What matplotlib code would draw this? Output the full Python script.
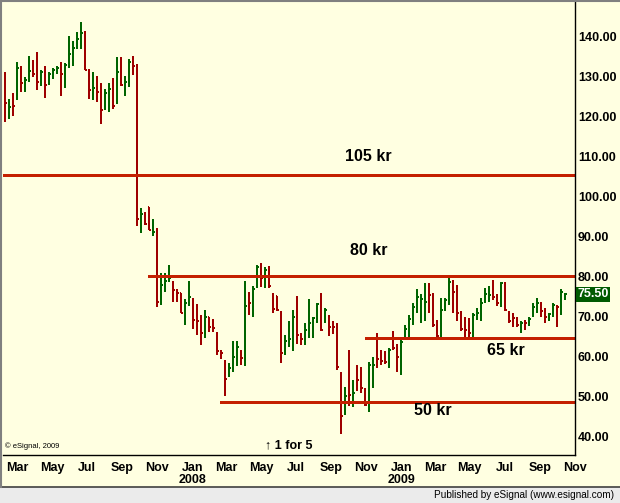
import numpy as np
import pandas as pd
import matplotlib
matplotlib.use('Agg')
import matplotlib.pyplot as plt
import matplotlib.dates as mdates
from matplotlib.patches import Rectangle
from matplotlib.lines import Line2D

plt.rcParams['font.family'] = ['Liberation Sans', 'DejaVu Sans']

# weekly OHLC bars
weeks = pd.date_range('2007-02-08', periods=141, freq='7D')

opens = [129.4, 120.5, 123.4, 124.8, 132.3, 126.9, 129.3, 133.4, 130.9, 128.4,
         131.1, 128.4, 130.5, 131.6, 132.2, 128.5, 133.3, 135.1, 137.2, 139.4,
         141.0, 131.6, 125.1, 126.9, 125.9, 122.4, 122.2, 128.4, 123.8, 133.9,
         127.9, 128.8, 133.6, 131.9, 92.9, 96.0, 97.3, 90.4, 91.2, 74.1,
         77.4, 79.3, 78.7, 76.6, 75.8, 70.6, 73.1, 74.3, 71.2, 69.9,
         65.7, 69.7, 69.1, 65.9, 61.2, 58.2, 55.5, 56.6, 58.2, 59.9,
         59.5, 73.7, 71.6, 79.5, 82.4, 79.8, 81.4, 75.4, 75.0, 70.9,
         61.2, 64.1, 64.1, 71.2, 65.3, 64.1, 67.0, 68.7, 68.7, 73.1,
         69.1, 70.1, 67.8, 67.6, 55.7, 47.4, 58.2, 48.2, 55.0, 55.7,
         51.7, 47.8, 57.0, 60.1, 59.7, 61.1, 59.2, 63.2, 62.6, 58.9,
         64.9, 66.6, 70.1, 71.7, 73.9, 73.3, 78.1, 68.9, 68.4, 65.3,
         71.7, 73.7, 78.4, 76.2, 68.7, 67.0, 66.6, 65.3, 69.9, 70.3,
         74.9, 75.0, 78.3, 75.3, 73.7, 78.4, 70.9, 70.3, 69.5, 66.7,
         68.9, 68.1, 70.1, 72.4, 73.4, 71.6, 69.2, 70.3, 72.4, 72.3,
         75.1]
highs = [131.1, 124.5, 125.9, 133.6, 132.8, 129.9, 135.1, 134.3, 136.1, 131.6,
         132.8, 131.3, 132.2, 132.6, 133.6, 133.5, 140.3, 138.9, 141.2, 143.7,
         141.6, 132.0, 131.3, 130.3, 128.4, 126.9, 128.4, 129.7, 134.9, 134.9,
         130.1, 134.4, 135.3, 133.2, 97.1, 96.2, 97.5, 94.4, 92.1, 80.8,
         80.9, 82.9, 78.9, 76.8, 75.9, 74.3, 78.9, 74.5, 73.1, 70.3,
         71.6, 69.9, 69.2, 66.1, 61.6, 59.1, 58.2, 63.7, 63.7, 61.6,
         78.9, 76.2, 77.6, 82.9, 83.4, 82.4, 82.6, 75.8, 75.1, 71.2,
         65.3, 68.7, 71.6, 75.1, 65.7, 68.2, 74.3, 69.8, 73.3, 75.8,
         72.0, 70.3, 68.7, 68.2, 56.1, 52.4, 61.6, 54.0, 57.8, 57.4,
         52.0, 58.6, 59.7, 65.9, 61.6, 61.4, 62.0, 66.2, 63.1, 64.1,
         67.8, 70.3, 73.3, 76.8, 75.6, 78.3, 78.4, 75.8, 69.1, 74.5,
         74.5, 79.5, 79.1, 77.8, 71.2, 69.9, 69.5, 70.9, 72.0, 74.5,
         77.0, 77.6, 79.1, 75.6, 78.7, 78.7, 71.2, 70.7, 69.9, 68.7,
         69.1, 69.9, 73.3, 74.5, 73.7, 72.0, 70.9, 73.3, 72.8, 76.8,
         75.8]
lows = [118.8, 119.5, 120.2, 124.2, 126.3, 126.1, 128.8, 129.9, 126.8, 127.8,
        124.7, 128.0, 129.4, 130.8, 125.1, 127.3, 132.3, 132.6, 137.0, 137.0,
        131.6, 124.4, 124.2, 123.6, 118.2, 121.7, 121.1, 121.9, 123.2, 127.8,
        125.1, 127.4, 130.5, 92.5, 90.8, 92.9, 91.5, 90.0, 72.4, 72.8,
        76.2, 78.7, 73.7, 73.7, 70.8, 67.8, 72.6, 66.8, 65.3, 62.8,
        64.5, 66.1, 66.1, 60.3, 59.2, 50.0, 54.9, 56.1, 57.6, 57.8,
        57.6, 70.3, 69.9, 77.0, 77.3, 77.0, 77.0, 70.8, 71.2, 58.4,
        60.3, 62.4, 61.4, 63.1, 62.8, 62.8, 64.5, 64.5, 68.2, 66.3,
        68.4, 65.0, 65.6, 56.5, 40.4, 45.3, 47.4, 47.2, 51.4, 50.7,
        47.4, 46.1, 52.0, 57.0, 57.8, 58.1, 57.0, 61.6, 56.1, 55.3,
        64.2, 64.9, 67.8, 70.7, 68.4, 68.7, 70.7, 67.4, 64.2, 64.1,
        71.2, 72.8, 70.7, 68.7, 66.2, 64.1, 64.5, 64.9, 69.1, 68.9,
        73.3, 73.7, 74.1, 72.6, 72.4, 71.2, 68.2, 67.4, 67.2, 65.9,
        66.6, 67.6, 69.9, 70.7, 69.9, 68.2, 68.7, 69.9, 67.2, 70.3,
        74.1]
closes = [123.4, 122.4, 122.6, 132.3, 128.4, 129.3, 131.5, 130.8, 128.8, 131.3,
          128.0, 130.8, 131.8, 132.2, 130.8, 133.0, 135.8, 137.2, 139.4, 141.0,
          131.8, 126.6, 127.2, 126.1, 121.7, 125.9, 126.9, 122.7, 131.3, 128.0,
          128.8, 133.6, 132.6, 94.3, 95.7, 93.2, 91.7, 91.1, 73.5, 77.9,
          78.9, 79.5, 76.6, 75.9, 70.9, 73.4, 74.9, 69.1, 68.9, 65.7,
          69.7, 67.4, 67.0, 61.2, 60.7, 54.2, 57.0, 59.9, 62.4, 59.5,
          72.6, 73.3, 76.8, 82.4, 79.5, 81.6, 77.6, 71.8, 71.6, 60.7,
          63.9, 64.2, 69.9, 65.3, 64.2, 66.6, 68.4, 69.5, 73.1, 66.6,
          71.6, 67.3, 67.2, 57.4, 45.0, 50.0, 50.3, 50.7, 54.0, 52.0,
          47.8, 57.8, 57.8, 59.2, 58.9, 58.6, 61.6, 62.0, 59.9, 63.6,
          66.7, 69.2, 72.4, 74.9, 74.3, 73.7, 75.3, 67.8, 65.1, 71.6,
          74.1, 78.7, 76.2, 70.9, 66.7, 66.6, 65.7, 70.3, 70.9, 73.3,
          75.6, 75.3, 74.8, 73.3, 78.4, 71.6, 68.7, 69.5, 67.8, 68.2,
          68.4, 69.2, 72.3, 73.3, 71.2, 69.9, 70.6, 72.8, 72.3, 76.2,
          75.5]

# horizontal support / resistance levels
level_values = [105.5, 80.0, 64.5, 48.5]
level_starts = ['2007-02-04', '2007-10-15', '2008-10-29', '2008-02-19']
level_labels = ['105 kr', '80 kr', '65 kr', '50 kr']
label_dates = ['2008-11-05', '2008-11-05', '2009-07-03', '2009-02-25']
label_prices = [110.0, 86.4, 61.3, 46.5]

month_ticks = pd.date_range('2007-03-01', '2009-11-01', freq='2MS')
month_labels = [d.strftime('%b') + ('\n%d' % d.year if d.month == 1 else '') for d in month_ticks]
price_ticks = np.arange(40, 141, 10)

BG = '#FFFFE1'
GREEN = '#006400'
RED = '#9E0000'
LEVEL = '#C42000'

fig = plt.figure(figsize=(6.2, 5.03), dpi=100, facecolor=BG)
ax = fig.add_axes([3 / 620, 48 / 503, 572 / 620, 454 / 503], facecolor=BG)

x = mdates.date2num(weeks)
o = np.array(opens)
h = np.array(highs)
l = np.array(lows)
c = np.array(closes)
col = np.where(c >= o, GREEN, RED)
ax.vlines(x, l, h, colors=col, lw=1.3, antialiased=False)
ax.hlines(o, x - 2.6, x, colors=col, lw=1.3, antialiased=False)
ax.hlines(c, x, x + 2.6, colors=col, lw=1.3, antialiased=False)

x0 = mdates.date2num(pd.Timestamp('2007-02-04'))
x1 = mdates.date2num(pd.Timestamp('2009-11-01'))
ax.hlines(level_values, mdates.date2num(pd.to_datetime(level_starts)), x1,
          colors=LEVEL, lw=2.1, antialiased=False)
for lab, d, p in zip(level_labels, label_dates, label_prices):
    ax.text(mdates.date2num(pd.Timestamp(d)), p, lab, ha='center', va='center',
            fontsize=11.5, fontweight='bold', color='black')

ax.set_xlim(x0, x1)
ax.set_ylim(35.24, 149.0)

ax.set_xticks(mdates.date2num(month_ticks))
ax.set_xticklabels(month_labels, fontsize=9, fontweight='bold', linespacing=1.05)
ax.tick_params(axis='x', length=0, pad=5)
ax.yaxis.tick_right()
ax.set_yticks(price_ticks)
ax.set_yticklabels(['%.2f' % v for v in price_ticks], fontsize=9, fontweight='bold')
ax.tick_params(axis='y', length=0, pad=2)
for s in ['left', 'top']:
    ax.spines[s].set_visible(False)
for s in ['right', 'bottom']:
    ax.spines[s].set_linewidth(1.0)

# last price box
ax.annotate('%.2f' % closes[-1], xy=(1, closes[-1]), xycoords=('axes fraction', 'data'),
            xytext=(1.5, 0), textcoords='offset points', ha='left', va='center',
            fontsize=9, fontweight='bold', color='white',
            bbox=dict(boxstyle='square,pad=0.12', fc='#005A00', ec='none'))

ax.text(0.004, 0.02, '\u00a9 eSignal, 2009', transform=ax.transAxes, fontsize=5.5,
        ha='left', va='center')
ax.text(mdates.date2num(pd.Timestamp('2008-05-08')), 37.6, '\u2191 1 for 5',
        ha='left', va='center', fontsize=9, fontweight='bold')

# footer strip and frame
fig.add_artist(Rectangle((0, 0), 1, 16 / 503, transform=fig.transFigure,
                         facecolor='#EBEBEB', edgecolor='none'))
fig.add_artist(Line2D([0, 1], [16 / 503, 16 / 503], transform=fig.transFigure,
                      color='#404040', lw=1.2))
fig.add_artist(Line2D([1 / 620, 1 / 620], [16 / 503, 1], transform=fig.transFigure,
                      color='#808080', lw=1.5))
fig.add_artist(Line2D([0, 1], [502 / 503, 502 / 503], transform=fig.transFigure,
                      color='#808080', lw=1.5))
fig.text(614 / 620, 8 / 503, 'Published by eSignal (www.esignal.com)', ha='right',
         va='center', fontsize=7.2)

fig.savefig('out.png', dpi=100, facecolor=BG)
